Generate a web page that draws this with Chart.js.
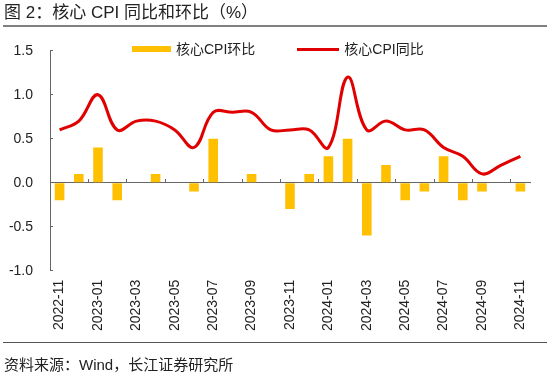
<!DOCTYPE html>
<html><head><meta charset="utf-8">
<script src="https://cdn.jsdelivr.net/npm/chart.js@4.4.1/dist/chart.umd.min.js"></script>
<style>
html,body{margin:0;padding:0;background:#fff;}
#wrap{position:relative;width:550px;height:379px;overflow:hidden;font-family:'Liberation Sans','Noto Sans CJK SC',sans-serif;}
canvas{position:absolute;left:0;top:0;}
#title{position:absolute;left:4px;top:3px;font-size:17px;line-height:20px;color:#222;white-space:nowrap;}
#titleRule{position:absolute;left:3px;right:3px;top:25px;height:2px;background:#808080;}
#footRule{position:absolute;left:3px;right:3px;top:342px;height:1px;background:#555;}
#foot{position:absolute;left:4px;top:355px;font-size:15px;line-height:20px;color:#222;white-space:nowrap;}
#legend{position:absolute;left:132px;top:41px;height:16px;display:flex;align-items:center;font-size:14px;line-height:16px;color:#222;white-space:nowrap;}
#legend .item{display:flex;align-items:center;margin-right:42px;}
#legend .sw{display:inline-block;margin-right:5px;}
</style></head>
<body><div id="wrap">
<canvas id="c" width="550" height="379"></canvas>
<div id="title">图 2：核心 CPI 同比和环比（%）</div>
<div id="titleRule"></div>
<div id="legend"></div>
<div id="footRule"></div>
<div id="foot">资料来源：Wind，长江证券研究所</div>
</div>
<script>
const categories = ['2022-11','2022-12','2023-01','2023-02','2023-03','2023-04','2023-05','2023-06','2023-07','2023-08','2023-09','2023-10','2023-11','2023-12','2024-01','2024-02','2024-03','2024-04','2024-05','2024-06','2024-07','2024-08','2024-09','2024-10','2024-11'];
const momValues = [-0.2,0.1,0.4,-0.2,0.0,0.1,0.0,-0.1,0.5,0.0,0.1,0.0,-0.3,0.1,0.3,0.5,-0.6,0.2,-0.2,-0.1,0.3,-0.2,-0.1,0.0,-0.1];
const yoyValues = [0.6,0.7,1.0,0.6,0.7,0.7,0.6,0.4,0.8,0.8,0.8,0.6,0.6,0.6,0.4,1.2,0.6,0.7,0.6,0.6,0.4,0.3,0.1,0.2,0.3];
const xTickLabels = ['2022-11','2023-01','2023-03','2023-05','2023-07','2023-09','2023-11','2024-01','2024-03','2024-05','2024-07','2024-09','2024-11'];
const yTickValues = [-1.0,-0.5,0.0,0.5,1.0,1.5];
const momName = '核心CPI环比';
const yoyName = '核心CPI同比';

const FONT = "'Liberation Sans','Noto Sans CJK SC',sans-serif";
const AXIS = '#666666';

const chart = new Chart(document.getElementById('c'), {
  type: 'bar',
  data: {
    labels: categories,
    datasets: [
      { type: 'bar', label: momName, data: momValues, backgroundColor: '#FFC000', borderWidth: 0,
        barPercentage: 0.5, categoryPercentage: 1.0, order: 1, xAxisID: 'x', yAxisID: 'y' },
      { type: 'line', label: yoyName, data: yoyValues, borderColor: '#E00000', backgroundColor: '#E00000',
        borderWidth: 3, pointRadius: 0, tension: 0.4, fill: false, order: 0, xAxisID: 'x', yAxisID: 'y' }
    ]
  },
  options: {
    responsive: false,
    animation: false,
    devicePixelRatio: 1,
    layout: { padding: { left: 0, right: 20, top: 50.7, bottom: 48.3 } },
    plugins: {
      tooltip: { enabled: false },
      title: { display: false },
      legend: { display: false }
    },
    scales: {
      x: {
        type: 'category', position: 'bottom', offset: true,
        grid: { display: false, drawTicks: false, offset: true },
        border: { display: false },
        ticks: {
          autoSkip: false, minRotation: 90, maxRotation: 90, padding: 9,
          color: '#222', font: { family: FONT, size: 14 },
          callback: function(val, i) { const l = categories[i]; return xTickLabels.includes(l) ? l : ''; }
        },
        afterFit(s) { s.height = 60; }
      },
      x0: {
        type: 'category', position: { y: 0 }, offset: true, z: 1,
        ticks: { display: false, autoSkip: false },
        grid: {
          offset: true, drawOnChartArea: false, drawTicks: true, tickLength: -4, lineWidth: 1,
          color: ctx => (ctx.index !== undefined && ctx.index > 0 && ctx.index % 2 === 0 && ctx.index < categories.length) ? AXIS : 'rgba(0,0,0,0)'
        },
        border: { display: true, color: AXIS, width: 1 }
      },
      y: {
        type: 'linear', position: 'left', min: -1.0, max: 1.5,
        afterBuildTicks(s) { s.ticks = yTickValues.map(v => ({ value: v })); },
        afterFit(s) { s.width = 50; },
        grid: { drawOnChartArea: false, drawTicks: true, tickLength: -3, color: AXIS },
        border: { display: true, color: AXIS, width: 1 },
        ticks: {
          padding: 20, color: '#222', font: { family: FONT, size: 14 },
          callback: v => Number(v).toFixed(1)
        }
      }
    }
  }
});

// legend built from the chart's own datasets
const legendEl = document.getElementById('legend');
chart.data.datasets.forEach(ds => {
  const item = document.createElement('span');
  item.className = 'item';
  const sw = document.createElement('span');
  sw.className = 'sw';
  if (ds.type === 'line') {
    sw.style.width = '42px'; sw.style.height = '3px'; sw.style.background = ds.borderColor;
  } else {
    sw.style.width = '39px'; sw.style.height = '6px'; sw.style.background = ds.backgroundColor;
  }
  const tx = document.createElement('span');
  tx.textContent = ds.label;
  item.appendChild(sw); item.appendChild(tx);
  legendEl.appendChild(item);
});
</script>
</body></html>
